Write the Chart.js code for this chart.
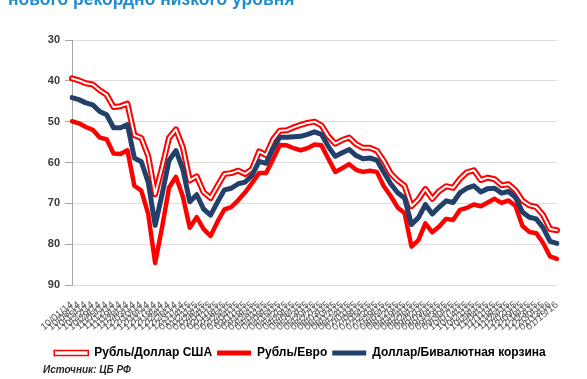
<!DOCTYPE html>
<html>
<head>
<meta charset="utf-8">
<script src="https://cdn.jsdelivr.net/npm/chart.js@4/dist/chart.umd.min.js"></script>
<style>
  html, body { margin: 0; padding: 0; background: #fff; overflow: hidden; }
  #wrap { position: relative; width: 587px; height: 379px; }
  #headline {
    position: absolute; left: 8px; top: -11px;
    font: bold 17.5px "Liberation Sans", Arial, sans-serif;
    color: #1f8dd0; white-space: nowrap;
  }
  #source {
    position: absolute; left: 43px; top: 364px;
    font: italic bold 10px "Liberation Sans", Arial, sans-serif;
    color: #262626; white-space: nowrap;
  }
  canvas { position: absolute; left: 0; top: 0; }
</style>
</head>
<body>
<div id="wrap">
  <canvas id="c" width="587" height="379"></canvas>
  <div id="headline">нового рекордно низкого уровня</div>
  <div id="source"></div>
</div>
<script>
// Official CBR rates, weekly, plus the days of the sharpest moves
const dates = [
  '10/01/14','10/08/14','10/15/14','10/22/14','10/29/14','11/05/14','11/12/14','11/19/14','11/26/14',
  '12/03/14','12/10/14','12/16/14','12/17/14','12/18/14','12/24/14','12/26/14','12/31/14',
  '01/14/15','01/21/15','01/28/15','02/04/15','02/11/15','02/18/15','02/25/15','03/04/15',
  '03/11/15','03/18/15','03/25/15','04/01/15','04/08/15','04/15/15','04/22/15','04/29/15',
  '05/06/15','05/13/15','05/20/15','05/27/15','06/03/15','06/10/15','06/17/15','06/24/15',
  '07/01/15','07/08/15','07/15/15','07/22/15','07/29/15','08/05/15','08/12/15','08/19/15',
  '08/24/15','08/26/15','09/02/15','09/09/15','09/16/15','09/23/15','09/30/15','10/07/15',
  '10/14/15','10/21/15','10/28/15','11/04/15','11/11/15','11/18/15','11/25/15','12/02/15',
  '12/09/15','12/16/15','12/23/15','12/30/15','01/13/16','01/15/16'
];

const rubUsd = [
  39.4, 39.9, 40.6, 40.9, 42.3, 43.4, 46.4, 46.2, 45.6,
  53.3, 54.0, 58.4, 67.8, 61.2, 54.0, 51.9, 56.3,
  64.4, 63.4, 67.3, 68.7, 65.7, 62.8, 62.6, 62.0,
  62.8, 61.6, 57.3, 58.2, 54.4, 52.2, 52.1, 51.4,
  50.8, 50.3, 50.0, 50.9, 53.6, 55.4, 54.5, 53.9,
  55.5, 56.4, 56.4, 57.1, 59.6, 62.7, 64.4, 65.7,
  70.7, 69.0, 66.5, 68.9, 67.0, 65.8, 66.2, 64.0,
  62.4, 61.9, 64.3, 63.7, 64.1, 65.6, 65.3, 66.8,
  69.3, 70.5, 70.9, 72.9, 76.3, 76.6
];

const rubEur = [
  49.9, 50.4, 51.3, 52.0, 53.9, 54.3, 57.8, 57.9, 57.0,
  65.7, 66.9, 72.6, 84.6, 75.9, 66.2, 63.5, 68.3,
  76.0, 73.4, 76.3, 78.0, 74.5, 71.5, 70.9, 69.2,
  67.3, 65.0, 62.6, 62.6, 59.3, 55.7, 55.8, 56.5,
  57.0, 56.5, 55.6, 55.8, 59.1, 62.3, 61.4, 60.4,
  61.8, 62.3, 62.0, 62.3, 65.8, 68.2, 71.0, 72.4,
  80.6, 79.0, 74.9, 77.1, 75.7, 73.8, 74.1, 71.6,
  71.1, 70.3, 70.7, 69.8, 68.9, 69.9, 69.3, 70.6,
  75.5, 77.0, 77.3, 79.7, 83.0, 83.6
];

const basket = [
  44.1, 44.6, 45.4, 45.9, 47.5, 48.3, 51.5, 51.5, 50.7,
  58.9, 59.8, 64.8, 75.4, 67.8, 59.5, 57.1, 61.7,
  69.6, 67.9, 71.4, 72.9, 69.7, 66.7, 66.3, 65.2,
  64.8, 63.1, 59.7, 60.2, 56.6, 53.8, 53.8, 53.7,
  53.6, 53.1, 52.5, 53.1, 56.1, 58.5, 57.6, 56.8,
  58.3, 59.1, 58.9, 59.4, 62.4, 65.2, 67.4, 68.7,
  75.2, 73.5, 70.3, 72.6, 70.9, 69.4, 69.8, 67.4,
  66.3, 65.7, 67.2, 66.4, 66.3, 67.5, 67.1, 68.5,
  72.1, 73.4, 73.8, 76.0, 79.3, 79.8
];

const seriesNames = ['Рубль/Доллар США', 'Рубль/Евро', 'Доллар/Бивалютная корзина'];
const yMin = 30, yMax = 90, yStep = 10;
const sourceNote = 'Источник: ЦБ РФ';

document.getElementById('source').textContent = sourceNote;

const RED = '#ff0000';
const NAVY = '#23406b';
const FONT = '"Liberation Sans", Arial, sans-serif';

const line = (data, color, width, order) => ({
  data, borderColor: color, backgroundColor: color, borderWidth: width,
  pointRadius: 0, tension: 0, fill: false, order,
  borderJoinStyle: 'round', borderCapStyle: 'round'
});

new Chart(document.getElementById('c'), {
  type: 'line',
  data: {
    labels: dates,
    datasets: [
      Object.assign(line(rubUsd, RED, 6, 2), { label: seriesNames[0] }),
      Object.assign(line(rubUsd, '#ffffff', 2, 1), { label: 'core' }),
      Object.assign(line(rubEur, RED, 4.5, 3), { label: seriesNames[1] }),
      Object.assign(line(basket, NAVY, 5, 0), { label: seriesNames[2] })
    ]
  },
  options: {
    responsive: false,
    animation: false,
    devicePixelRatio: 1,
    layout: { padding: { left: 43, right: 30, top: 40, bottom: 10 } },
    scales: {
      x: {
        grid: { display: false },
        border: { display: false },
        ticks: {
          autoSkip: false, minRotation: 40, maxRotation: 40,
          font: { family: FONT, size: 10 }, color: '#555555', padding: 6
        },
        afterFit: s => { s.height = 57; }
      },
      y: {
        reverse: true, min: yMin, max: yMax,
        grid: { color: '#dcdcdc', tickColor: '#a6a6a6', tickLength: 7 },
        border: { color: '#a6a6a6', width: 1 },
        ticks: {
          stepSize: yStep,
          font: { family: FONT, size: 11, weight: 'bold' }, color: '#3a3a3a', padding: 5
        },
        afterFit: s => { s.width = 29; }
      }
    },
    plugins: {
      tooltip: { enabled: false },
      legend: {
        position: 'bottom',
        labels: {
          boxWidth: 34, boxHeight: 5, padding: 5,
          font: { family: FONT, size: 12, weight: 'bold' }, color: '#404040',
          generateLabels: () => [
            { text: seriesNames[0], fillStyle: '#ffffff', strokeStyle: RED, lineWidth: 1.5, datasetIndex: 0 },
            { text: seriesNames[1], fillStyle: RED, strokeStyle: RED, lineWidth: 0, datasetIndex: 2 },
            { text: seriesNames[2], fillStyle: NAVY, strokeStyle: NAVY, lineWidth: 0, datasetIndex: 3 }
          ]
        }
      }
    }
  }
});
</script>
</body>
</html>
